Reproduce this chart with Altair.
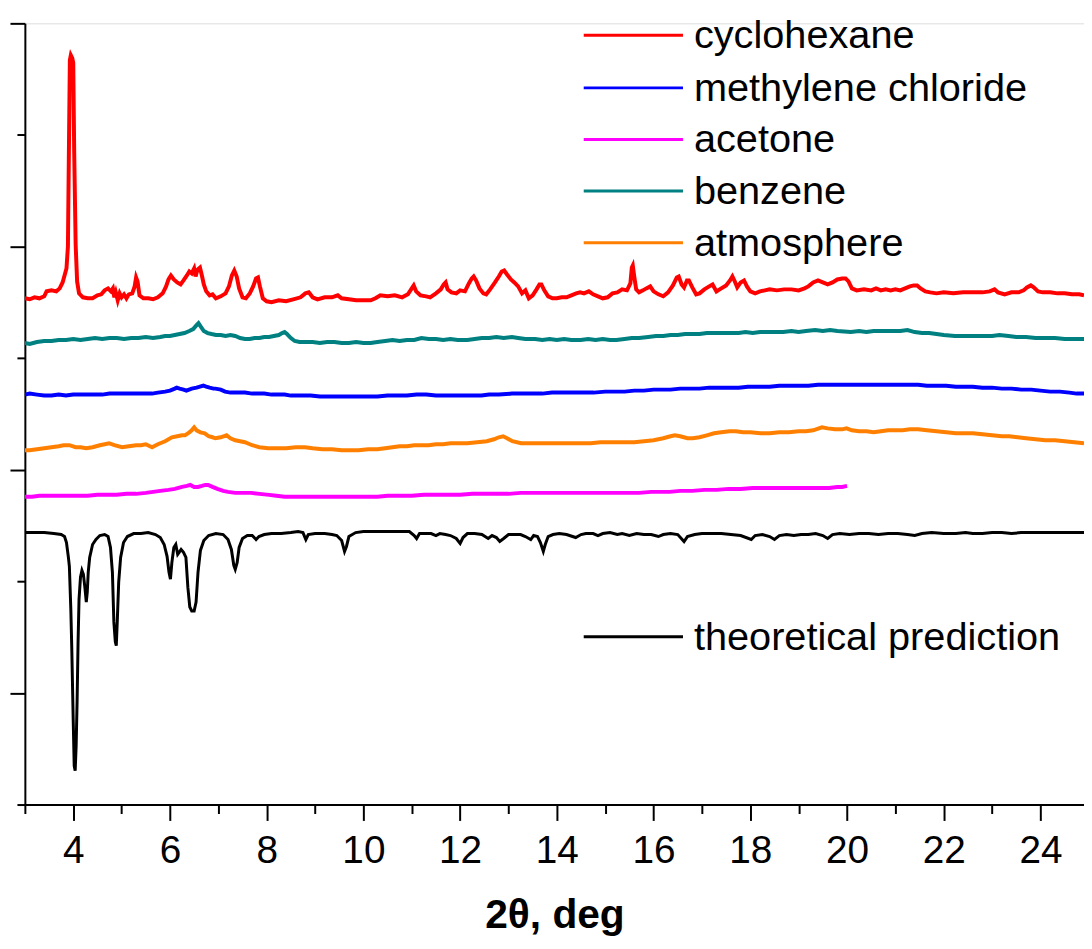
import altair as alt
import pandas as pd

# ---------------- data ----------------
names = ["cyclohexane", "methylene chloride", "acetone", "benzene", "atmosphere", "theoretical prediction"]
colors = ["#FF0000", "#0000FF", "#FF00FF", "#008080", "#FF8000", "#000000"]
# vertical offset (a.u.) of each trace's baseline
offsets = [510, 412, 310, 465, 357, 274]

x_cyc = [3.00, 3.10, 3.20, 3.30, 3.40, 3.45, 3.55, 3.65, 3.72, 3.78, 3.86, 3.89, 3.91, 3.93, 3.95, 3.98, 4.00, 4.02, 4.05, 4.08,
         4.12, 4.20, 4.30, 4.40, 4.50, 4.58, 4.65, 4.72, 4.78, 4.82, 4.85, 4.88, 4.92, 4.96, 5.00, 5.05, 5.10, 5.15, 5.22, 5.27,
         5.30, 5.33, 5.37, 5.45, 5.55, 5.65, 5.75, 5.85, 5.92, 5.97, 6.02, 6.08, 6.15, 6.22, 6.28, 6.35, 6.40, 6.45, 6.50, 6.53,
         6.57, 6.62, 6.66, 6.70, 6.75, 6.82, 6.88, 6.95, 7.05, 7.15, 7.22, 7.28, 7.33, 7.38, 7.43, 7.50, 7.57, 7.65, 7.72, 7.78,
         7.82, 7.86, 7.92, 8.00, 8.10, 8.25, 8.40, 8.55, 8.70, 8.80, 8.87, 8.95, 9.05, 9.20, 9.35, 9.47, 9.55, 9.70, 9.85, 10.00,
         10.15, 10.25, 10.35, 10.50, 10.65, 10.80, 10.92, 11.00, 11.04, 11.09, 11.18, 11.30, 11.38, 11.50, 11.60, 11.66, 11.70, 11.74, 11.82, 11.92,
         12.00, 12.10, 12.18, 12.24, 12.28, 12.33, 12.40, 12.48, 12.54, 12.62, 12.72, 12.80, 12.86, 12.91, 12.97, 13.05, 13.12, 13.20, 13.28, 13.35,
         13.42, 13.50, 13.58, 13.64, 13.68, 13.74, 13.82, 13.91, 14.00, 14.10, 14.20, 14.30, 14.40, 14.48, 14.56, 14.66, 14.75, 14.85, 14.95, 15.05,
         15.15, 15.25, 15.35, 15.45, 15.52, 15.55, 15.57, 15.60, 15.64, 15.70, 15.78, 15.85, 15.93, 16.00, 16.10, 16.20, 16.30, 16.40, 16.48, 16.52,
         16.58, 16.63, 16.69, 16.73, 16.80, 16.88, 16.95, 17.05, 17.15, 17.22, 17.30, 17.40, 17.50, 17.58, 17.63, 17.68, 17.73, 17.80, 17.87, 17.93,
         18.00, 18.10, 18.20, 18.30, 18.40, 18.55, 18.70, 18.85, 19.00, 19.12, 19.20, 19.30, 19.40, 19.50, 19.60, 19.70, 19.80, 19.90, 19.97, 20.03,
         20.10, 20.20, 20.35, 20.50, 20.60, 20.70, 20.80, 20.90, 21.00, 21.10, 21.20, 21.30, 21.38, 21.45, 21.52, 21.62, 21.72, 21.85, 22.00, 22.20,
         22.40, 22.60, 22.80, 22.95, 23.05, 23.12, 23.26, 23.40, 23.55, 23.65, 23.72, 23.80, 23.86, 23.95, 24.05, 24.20, 24.35, 24.50, 24.65, 24.80, 24.90]
y_cyc = [0, -1, 1, 0, 2, 7, 8, 7, 10, 16, 30, 52, 147, 240, 245, 242, 237, 147, 54, 17,
         5, 1, 0, 0, 3, 4, 8, 10, 7, 10, 1, 6, -2, 5, 1, 4, 0, 4, 5, 12,
         21, 17, 3, 0, 0, -1, 1, 5, 12, 19, 23, 19, 16, 14, 18, 23, 27, 25, 30, 22,
         29, 31, 23, 14, 7, 3, 4, 0, 2, 5, 12, 23, 28, 22, 10, 1, 0, 5, 12, 20,
         21, 12, 0, -3, -4, -2, -3, -1, 1, 5, 6, 1, -1, 1, 1, 3, 0, -1, -2, -2,
         -2, 0, 3, 2, 3, 1, 4, 10, 13, 7, 3, 2, 1, 5, 9, 14, 16, 9, 6, 5,
         8, 7, 15, 20, 22, 18, 10, 5, 4, 9, 16, 22, 27, 28, 24, 19, 16, 12, 5, 8,
         0, 3, 9, 14, 14, 8, 2, 0, 0, 1, 1, 3, 5, 6, 5, 7, 4, 2, 0, 1,
         5, 6, 9, 8, 15, 31, 33, 22, 9, 6, 8, 10, 12, 7, 4, 2, 6, 13, 21, 22,
         14, 11, 18, 18, 11, 4, 5, 9, 12, 14, 7, 10, 13, 18, 22, 17, 11, 16, 18, 12,
         7, 5, 7, 8, 9, 8, 9, 9, 8, 10, 12, 16, 18, 16, 14, 16, 19, 20, 20, 17,
         10, 8, 9, 8, 10, 8, 9, 8, 9, 8, 10, 12, 13, 13, 10, 7, 6, 5, 6, 5,
         6, 6, 6, 7, 9, 6, 4, 6, 6, 8, 11, 13, 11, 7, 6, 6, 5, 5, 4, 4, 3]

x_ben = [3.00, 3.10, 3.25, 3.40, 3.55, 3.70, 3.85, 4.00, 4.15, 4.30, 4.45, 4.60, 4.75, 4.90, 5.05, 5.20, 5.35, 5.50, 5.65, 5.80,
         5.90, 6.00, 6.10, 6.20, 6.30, 6.40, 6.48, 6.55, 6.59, 6.63, 6.70, 6.78, 6.86, 6.95, 7.05, 7.15, 7.25, 7.35, 7.45, 7.55,
         7.65, 7.75, 7.85, 7.95, 8.05, 8.15, 8.25, 8.32, 8.37, 8.42, 8.50, 8.58, 8.68, 8.80, 8.95, 9.10, 9.25, 9.40, 9.55, 9.70,
         9.85, 10.00, 10.15, 10.29, 10.45, 10.60, 10.75, 10.90, 11.05, 11.20, 11.35, 11.50, 11.65, 11.80, 11.95, 12.15, 12.30, 12.45, 12.60, 12.75,
         12.90, 13.07, 13.20, 13.35, 13.55, 13.70, 13.85, 14.00, 14.15, 14.30, 14.49, 14.65, 14.80, 14.95, 15.10, 15.23, 15.40, 15.55, 15.70, 15.89,
         16.05, 16.20, 16.35, 16.50, 16.65, 16.81, 16.95, 17.10, 17.25, 17.40, 17.60, 17.76, 17.90, 18.05, 18.20, 18.35, 18.50, 18.68, 18.85, 19.00,
         19.15, 19.34, 19.50, 19.65, 19.80, 20.08, 20.25, 20.40, 20.55, 20.70, 20.90, 21.10, 21.25, 21.40, 21.55, 21.70, 21.85, 22.00, 22.23, 22.40,
         22.60, 22.80, 23.00, 23.15, 23.34, 23.50, 23.70, 23.90, 24.10, 24.30, 24.50, 24.65, 24.80, 24.90]
y_ben = [0, -1, 1, 2, 2, 3, 3, 4, 3, 4, 5, 4, 5, 5, 4, 5, 5, 6, 5, 6,
         7, 7, 8, 9, 10, 12, 14, 18, 20, 17, 12, 10, 9, 8, 8, 7, 8, 7, 5, 4,
         4, 5, 5, 6, 6, 7, 8, 10, 11, 9, 5, 2, 1, 1, 1, 0, 1, 1, 0, 0,
         1, 0, 0, 1, 2, 3, 2, 3, 3, 5, 4, 4, 3, 4, 3, 3, 4, 5, 5, 6,
         5, 6, 5, 4, 4, 3, 4, 3, 4, 3, 3, 4, 3, 4, 3, 3, 4, 5, 5, 6,
         7, 7, 8, 8, 9, 9, 9, 10, 10, 10, 10, 10, 11, 10, 11, 11, 11, 11, 12, 11,
         12, 13, 12, 13, 12, 11, 12, 11, 12, 12, 12, 12, 13, 11, 10, 10, 9, 8, 7, 7,
         7, 7, 7, 8, 7, 6, 6, 5, 5, 5, 4, 4, 4, 4]

x_mc = [3.00, 3.10, 3.25, 3.40, 3.55, 3.70, 3.85, 4.00, 4.15, 4.30, 4.45, 4.60, 4.75, 4.95, 5.10, 5.25, 5.40, 5.55, 5.63, 5.75,
        5.90, 6.00, 6.10, 6.14, 6.20, 6.28, 6.34, 6.45, 6.55, 6.62, 6.69, 6.75, 6.82, 6.90, 6.94, 7.05, 7.14, 7.25, 7.40, 7.55,
        7.70, 7.82, 7.95, 8.10, 8.25, 8.37, 8.50, 8.65, 8.80, 8.91, 9.10, 9.30, 9.50, 9.73, 9.90, 10.10, 10.29, 10.50, 10.70, 10.90,
        11.10, 11.30, 11.50, 11.70, 11.90, 12.10, 12.30, 12.44, 12.60, 12.80, 13.07, 13.30, 13.50, 13.70, 13.90, 14.10, 14.30, 14.50, 14.76, 15.00,
        15.20, 15.40, 15.60, 15.80, 16.00, 16.16, 16.35, 16.55, 16.75, 16.95, 17.15, 17.35, 17.55, 17.76, 17.95, 18.21, 18.40, 18.60, 18.80, 19.00,
        19.20, 19.40, 19.63, 19.80, 20.00, 20.20, 20.40, 20.60, 20.80, 21.00, 21.20, 21.47, 21.65, 21.85, 22.05, 22.25, 22.42, 22.60, 22.80, 23.00,
        23.20, 23.40, 23.60, 23.81, 24.00, 24.20, 24.40, 24.60, 24.75, 24.90]
y_mc = [1, 2, 1, 0, 0, 1, 0, 1, 1, 1, 1, 1, 2, 2, 2, 2, 2, 2, 2, 3,
        4, 5, 7, 8, 7, 6, 5, 7, 8, 9, 10, 9, 8, 7, 7, 6, 4, 3, 3, 3,
        2, 2, 2, 1, 1, 1, 0, 0, 0, 0, -1, -1, -1, -1, -1, -1, -1, 0, 0, 0,
        1, 1, 0, 0, 0, 0, 0, 0, 1, 1, 2, 2, 2, 2, 3, 3, 3, 3, 3, 4,
        4, 4, 5, 5, 6, 6, 6, 7, 7, 7, 8, 8, 8, 8, 9, 9, 9, 10, 10, 10,
        10, 11, 11, 11, 11, 11, 11, 11, 11, 11, 11, 11, 10, 10, 10, 9, 9, 9, 8, 8,
        7, 7, 6, 6, 5, 4, 4, 3, 2, 2]

x_atm = [3.00, 3.10, 3.25, 3.40, 3.55, 3.70, 3.80, 3.92, 4.05, 4.15, 4.27, 4.40, 4.55, 4.65, 4.74, 4.85, 5.01, 5.15, 5.30, 5.40,
         5.50, 5.63, 5.75, 5.90, 6.04, 6.15, 6.25, 6.31, 6.40, 6.45, 6.50, 6.55, 6.63, 6.72, 6.80, 6.88, 6.94, 7.05, 7.17, 7.25,
         7.35, 7.45, 7.55, 7.70, 7.85, 8.03, 8.20, 8.40, 8.60, 8.79, 8.95, 9.15, 9.35, 9.55, 9.73, 9.90, 10.10, 10.29, 10.45, 10.60,
         10.75, 10.90, 11.05, 11.20, 11.35, 11.50, 11.65, 11.80, 11.95, 12.15, 12.35, 12.55, 12.70, 12.80, 12.89, 12.97, 13.08, 13.26, 13.45, 13.65,
         13.85, 14.05, 14.25, 14.49, 14.70, 14.90, 15.10, 15.30, 15.45, 15.60, 15.80, 16.00, 16.20, 16.35, 16.44, 16.55, 16.70, 16.81, 16.95, 17.10,
         17.25, 17.40, 17.57, 17.70, 17.85, 18.00, 18.21, 18.40, 18.60, 18.80, 19.00, 19.15, 19.30, 19.48, 19.60, 19.75, 19.90, 19.99, 20.10, 20.25,
         20.40, 20.55, 20.70, 20.85, 21.00, 21.15, 21.30, 21.47, 21.65, 21.85, 22.05, 22.25, 22.42, 22.60, 22.80, 23.00, 23.20, 23.35, 23.53, 23.70,
         23.90, 24.10, 24.30, 24.50, 24.70, 24.90]
y_atm = [0, 0, 1, 2, 3, 4, 5, 5, 3, 3, 2, 3, 5, 6, 7, 5, 3, 4, 5, 5,
         6, 3, 6, 9, 13, 14, 15, 15, 18, 20, 23, 20, 18, 17, 14, 13, 12, 13, 15, 12,
         10, 9, 8, 5, 3, 2, 2, 2, 3, 3, 2, 1, 1, 0, 0, 0, 1, 1, 2, 3,
         4, 4, 5, 5, 5, 6, 6, 7, 7, 7, 8, 9, 11, 13, 14, 12, 9, 7, 7, 7,
         7, 7, 7, 7, 7, 8, 8, 8, 8, 8, 9, 10, 12, 14, 15, 14, 12, 12, 13, 15,
         17, 18, 19, 19, 18, 18, 17, 17, 18, 18, 19, 19, 20, 23, 22, 21, 21, 22, 20, 19,
         19, 18, 19, 20, 20, 20, 21, 21, 20, 19, 18, 17, 17, 17, 16, 15, 14, 14, 13, 12,
         11, 10, 10, 9, 8, 7]

x_ace = [3.00, 3.15, 3.30, 3.50, 3.70, 3.90, 4.10, 4.30, 4.50, 4.70, 4.90, 5.10, 5.30, 5.50, 5.65, 5.80, 5.97, 6.10, 6.25, 6.35,
         6.42, 6.50, 6.58, 6.66, 6.73, 6.79, 6.88, 6.98, 7.10, 7.20, 7.35, 7.50, 7.68, 7.85, 8.05, 8.20, 8.37, 8.55, 8.75, 8.95,
         9.15, 9.35, 9.55, 9.75, 9.95, 10.15, 10.29, 10.50, 10.75, 11.00, 11.25, 11.50, 11.75, 12.00, 12.25, 12.50, 12.75, 13.00, 13.25, 13.50,
         13.75, 14.00, 14.25, 14.50, 14.75, 14.94, 15.20, 15.45, 15.70, 15.95, 16.15, 16.33, 16.55, 16.80, 17.05, 17.30, 17.55, 17.80, 18.05, 18.30,
         18.55, 18.80, 19.05, 19.30, 19.50, 19.63, 19.80, 19.90, 20.00]
y_ace = [0, 0, 1, 1, 1, 1, 1, 1, 2, 2, 2, 3, 3, 4, 5, 6, 7, 8, 10, 11,
         12, 10, 10, 11, 12, 12, 10, 8, 6, 5, 4, 4, 4, 3, 2, 1, 0, 0, 0, 0,
         0, 0, 0, 0, 0, 0, 0, 1, 1, 1, 2, 2, 2, 2, 3, 3, 3, 3, 4, 4,
         4, 4, 4, 4, 4, 4, 4, 4, 4, 5, 5, 5, 6, 6, 7, 7, 8, 8, 9, 9,
         9, 9, 9, 9, 9, 9, 10, 10, 11]

x_th = [3.00, 3.20, 3.40, 3.60, 3.75, 3.82, 3.86, 3.90, 3.92, 3.95, 3.97, 4.00, 4.02, 4.04, 4.06, 4.08, 4.10, 4.12, 4.15, 4.18,
        4.21, 4.24, 4.27, 4.29, 4.31, 4.34, 4.40, 4.47, 4.55, 4.65, 4.72, 4.77, 4.81, 4.84, 4.87, 4.89, 4.91, 4.94, 4.98, 5.04,
        5.12, 5.25, 5.40, 5.55, 5.70, 5.80, 5.88, 5.94, 5.98, 6.01, 6.04, 6.08, 6.12, 6.16, 6.19, 6.23, 6.28, 6.33, 6.37, 6.41,
        6.45, 6.50, 6.54, 6.58, 6.63, 6.70, 6.80, 6.95, 7.10, 7.20, 7.27, 7.32, 7.35, 7.39, 7.43, 7.50, 7.60, 7.70, 7.78, 7.84,
        7.95, 8.10, 8.30, 8.50, 8.65, 8.75, 8.81, 8.86, 9.00, 9.20, 9.35, 9.45, 9.55, 9.61, 9.65, 9.70, 9.84, 10.00, 10.30, 10.60,
        10.95, 11.05, 11.10, 11.16, 11.30, 11.40, 11.50, 11.58, 11.70, 11.80, 11.92, 12.00, 12.06, 12.15, 12.30, 12.45, 12.58, 12.66, 12.75, 12.82,
        12.90, 13.00, 13.10, 13.25, 13.35, 13.46, 13.52, 13.60, 13.66, 13.72, 13.76, 13.82, 13.92, 14.05, 14.20, 14.39, 14.50, 14.60, 14.75, 14.85,
        14.95, 15.10, 15.25, 15.35, 15.50, 15.65, 15.80, 15.95, 16.10, 16.20, 16.35, 16.50, 16.63, 16.70, 16.85, 17.00, 17.20, 17.40, 17.60, 17.80,
        18.02, 18.10, 18.25, 18.40, 18.50, 18.60, 18.75, 18.90, 19.05, 19.20, 19.35, 19.50, 19.60, 19.70, 19.85, 20.05, 20.25, 20.45, 20.65, 20.85,
        21.05, 21.25, 21.40, 21.55, 21.75, 22.00, 22.25, 22.45, 22.60, 22.80, 23.00, 23.20, 23.40, 23.60, 23.80, 24.00, 24.20, 24.40, 24.60, 24.84, 24.90]
y_th = [0, 0, 0, -1, -2, -4, -10, -25, -34, -77, -117, -190, -235, -240, -215, -170, -110, -67, -45, -38,
        -42, -55, -70, -60, -40, -25, -12, -7, -3, -2, -4, -15, -40, -90, -110, -114, -90, -50, -25, -10,
        -4, -1, -1, 0, -2, -5, -12, -24, -40, -47, -30, -15, -12, -22, -20, -17, -20, -25, -55, -75,
        -79, -79, -70, -40, -18, -8, -3, -1, -2, -7, -17, -33, -37, -30, -15, -6, -3, -3, -7, -4,
        -2, -1, -1, 0, 1, 0, -7, -2, -1, -1, -2, -3, -8, -19, -14, -4, 0, 1, 1, 1,
        1, -3, -6, -1, -1, -1, -3, -1, -2, -3, -6, -11, -5, -1, -1, -2, -6, -3, -5, -9,
        -6, -2, -2, -2, -4, -7, -3, -4, -10, -19, -12, -4, -2, -1, -2, -5, -2, -1, -1, -3,
        -1, 0, -2, -1, -3, -1, -2, -2, -4, -2, -1, -2, -9, -4, -2, -1, -1, -1, -2, -3,
        -7, -3, -2, -4, -7, -3, -2, -3, -2, -2, -1, -3, -6, -2, -1, -2, -1, -1, -2, -1,
        -1, -2, -3, -1, 0, -1, -1, 0, -1, -1, 0, 0, -1, 0, 0, 0, 0, 0, 0, 0, 0]

x_ticks_major = [4, 6, 8, 10, 12, 14, 16, 18, 20, 22, 24]
x_ticks_minor = [3, 5, 7, 9, 11, 13, 15, 17, 19, 21, 23]

# ---------------- build table ----------------
xs = [x_cyc, x_mc, x_ace, x_ben, x_atm, x_th]
ys = [y_cyc, y_mc, y_ace, y_ben, y_atm, y_th]
frames = []
for name, off, xv, yv in zip(names, offsets, xs, ys):
    frames.append(pd.DataFrame({"series": name, "x": xv, "v": [off + t for t in yv]}))
df = pd.concat(frames, ignore_index=True)

Y_MAX = 787.0
step = Y_MAX / 7
y_major = [step * k for k in (1, 3, 5, 7)]
y_minor = [step * k for k in (0, 2, 4, 6)]

FONT = "Liberation Sans"
xscale = alt.Scale(domain=[3, 24.9], nice=False, zero=False)
yscale = alt.Scale(domain=[0, Y_MAX], nice=False, zero=False)
cscale = alt.Scale(domain=names, range=colors)

common_axis = dict(grid=False, tickColor="black", domainColor="black", tickWidth=2, domainWidth=2)

x_main = alt.X("x:Q", scale=xscale,
               axis=alt.Axis(values=x_ticks_major, tickSize=16, labelFontSize=39, labelFont=FONT,
                             labelColor="black", labelPadding=11, format="d",
                             title="2θ, deg", titleFont=FONT, titleFontSize=41, titleFontWeight="bold",
                             titleColor="black", titleBaseline="alphabetic", titleY=124,
                             orient="bottom", **common_axis))
y_main = alt.Y("v:Q", scale=yscale,
               axis=alt.Axis(values=y_major, tickSize=15, labels=False, title=None, orient="left", **common_axis))

exp_df = df[df["series"] != "theoretical prediction"]
th_df = df[df["series"] == "theoretical prediction"]

lines = alt.Chart(exp_df).mark_line(strokeWidth=4, clip=True).encode(
    x=x_main, y=y_main,
    color=alt.Color("series:N", scale=cscale, legend=None),
    order=alt.Order("x:Q"),
)
theory = alt.Chart(th_df).mark_line(strokeWidth=3, clip=True).encode(
    x=alt.X("x:Q", scale=xscale, axis=None),
    y=alt.Y("v:Q", scale=yscale, axis=None),
    color=alt.Color("series:N", scale=cscale, legend=None),
    order=alt.Order("x:Q"),
)

minor = alt.Chart(df).mark_line(opacity=0).encode(
    x=alt.X("x:Q", scale=xscale,
            axis=alt.Axis(values=x_ticks_minor, tickSize=9, labels=False, title=None, domain=False,
                          orient="bottom", grid=False, tickColor="black", tickWidth=2)),
    y=alt.Y("v:Q", scale=yscale,
            axis=alt.Axis(values=y_minor, tickSize=8, labels=False, title=None, domain=False,
                          orient="left", grid=False, tickColor="black", tickWidth=2)),
    detail="series:N",
)

# ---------------- hand-drawn legend ----------------
legend_rows = [12, 65, 117, 169, 221, 618]
legend_layers = []
for name, color, ly in zip(names, colors, legend_rows):
    ldf = pd.DataFrame({"label": [name]})
    legend_layers.append(
        alt.Chart(ldf).mark_rule(color=color, strokeWidth=3).encode(
            x=alt.value(563), x2=alt.value(663), y=alt.value(ly))
    )
    legend_layers.append(
        alt.Chart(ldf).mark_text(align="left", baseline="alphabetic", fontSize=40, font=FONT, color="black").encode(
            x=alt.value(674), y=alt.value(ly + 13), text="label:N")
    )

chart = alt.layer(lines, theory, minor, *legend_layers).resolve_axis(
    x="independent", y="independent"
).properties(
    width=1067, height=787,
    autosize=alt.AutoSizeParams(type="none"),
    padding={"left": 17, "top": 12, "right": 0, "bottom": 134},
).configure_view(stroke=None).configure(background="white")

chart.save("out.html", embed_options={"renderer": "svg", "actions": False})
